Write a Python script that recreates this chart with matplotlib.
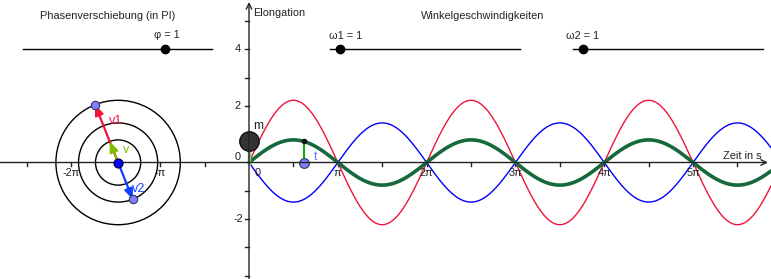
import numpy as np
import matplotlib
matplotlib.use("Agg")
import matplotlib.pyplot as plt
from matplotlib.patches import Circle, FancyArrowPatch

# ---- data ----
A1 = 2.2          # amplitude of wave 1 (red)
A2 = 1.4          # amplitude of wave 2 (blue)
phi = 1           # phase shift in units of pi
omega1 = 1        # angular velocity 1
omega2 = 1        # angular velocity 2
t_now = 1.95      # current time point t
center_x = -4.63  # centre of phasor diagram
x_tick_labels = ["-2π", "-π", "0", "π", "2π", "3π", "4π", "5π"]
x_tick_mult = [-2, -1, 0, 1, 2, 3, 4, 5]
y_tick_labels = ["4", "2", "0", "-2"]
y_tick_vals = [4, 2, 0, -2]
slider_labels = ["φ = 1", "ω1 = 1", "ω2 = 1"]

W, H = 771, 279
S = 28.27           # pixels per unit
OX, OY = 249, 162.5  # origin in pixels

fig = plt.figure(figsize=(W / 100, H / 100), dpi=100)
ax = fig.add_axes([0, 0, 1, 1])
ax.set_xlim(-OX / S, (W - OX) / S)
ax.set_ylim(-(H - OY) / S, OY / S)
ax.set_aspect("auto")
ax.axis("off")

FONT = "Liberation Sans"
FS = 7.9
def P(px, py):
    return (px / W, 1 - py / H)

axc = "#222222"
# axes
xmin, xmax = ax.get_xlim()
ymin, ymax = ax.get_ylim()
ax.annotate("", xy=(xmax - 3 / S, 0), xytext=(xmin, 0),
            arrowprops=dict(arrowstyle="->", color=axc, lw=1, mutation_scale=10, shrinkA=0, shrinkB=0))
ax.annotate("", xy=(0, ymax - 2 / S), xytext=(0, ymin),
            arrowprops=dict(arrowstyle="->", color=axc, lw=1, mutation_scale=10, shrinkA=0, shrinkB=0))

# x ticks at multiples of pi/2
for k in range(-5, 12):
    xv = k * np.pi / 2
    if k == 0:
        continue
    ax.plot([xv, xv], [0, -3 / S], color=axc, lw=1)
for m, lab in zip(x_tick_mult, x_tick_labels):
    if m == 0:
        ax.text(0.3, -10.5 / S, lab, ha="center", va="center", fontsize=FS, family=FONT, color="#222")
    else:
        ax.text(m * np.pi, -10.5 / S, lab, ha="center", va="center", fontsize=FS, family=FONT, color="#222")
# y ticks
for yv in range(-4, 6):
    if yv == 0:
        continue
    ax.plot([-4 / S, 0], [yv, yv], color=axc, lw=1)
for yv, lab in zip(y_tick_vals, y_tick_labels):
    if yv == 0:
        ax.text(-11 / S, 5.5 / S, lab, ha="center", va="center", fontsize=FS, family=FONT, color="#222")
    else:
        ax.text(-11 / S, yv, lab, ha="center", va="center", fontsize=FS, family=FONT, color="#222")

ax.text(4 / S, OY / S - 13 / S, "Elongation", ha="left", va="center", fontsize=FS, family=FONT, color="#222")
ax.text((723 - OX) / S, 6.5 / S, "Zeit in s", ha="left", va="center", fontsize=FS, family=FONT, color="#222")

# curves
RED = "#f0143c"
BLUE = "#0000ff"
DGREEN = "#15693b"
x = np.linspace(0, xmax, 1500)
y1 = A1 * np.sin(omega1 * x)
y2 = A2 * np.sin(omega2 * x + phi * np.pi)
ax.plot(x, y1, color=RED, lw=1.0)
ax.plot(x, y2, color=BLUE, lw=1.0)
ax.plot(x, y1 + y2, color=DGREEN, lw=2.6, solid_capstyle="round")

yg = A1 * np.sin(omega1 * t_now) + A2 * np.sin(omega2 * t_now + phi * np.pi)
# segment at m
ax.plot([0, 0], [0, yg], color="#7fd07f", lw=2.5)
ax.plot([t_now, t_now], [0, yg], color="#00b000", lw=1.4)
ax.plot([t_now], [yg], "o", color="#111", ms=3)
ax.plot([t_now], [0], "o", mfc="#8080ff", mec="#333366", ms=7, mew=0.8)
ax.text(t_now + 11 / S, 5 / S, "t", ha="center", va="center", fontsize=FS + 0.8, family=FONT, color="#6f6fff")
ax.plot([0], [yg], "o", mfc="#333333", mec="#111111", ms=14, mew=1)
ax.text(9 / S, yg + 15.5 / S, "m", ha="center", va="center", fontsize=FS + 0.8, family=FONT, color="#222")

# phasor diagram
for r in [A1, A2, abs(A1 - A2)]:
    ax.add_patch(Circle((center_x, 0), r, fill=False, ec="black", lw=1))
v1 = np.array([A1 * np.cos(t_now), A1 * np.sin(t_now)])
v2 = np.array([A2 * np.cos(t_now + phi * np.pi), A2 * np.sin(t_now + phi * np.pi)])
vs = v1 + v2
c = np.array([center_x, 0])
for vec, col in [(v1, RED), (v2, "#1040ff"), (vs, "#7fbf00")]:
    ax.add_patch(FancyArrowPatch(c, c + vec, arrowstyle="-|>,head_length=0.6,head_width=0.25", mutation_scale=10,
                                 color=col, lw=1.6, shrinkA=0, shrinkB=0, zorder=4))
ax.plot([c[0] + v1[0]], [v1[1]], "o", mfc="#8080ff", mec="#333366", ms=6, mew=0.8, zorder=5)
ax.plot([c[0] + v2[0]], [v2[1]], "o", mfc="#8080ff", mec="#333366", ms=6, mew=0.8, zorder=5)
ax.plot([c[0]], [0], "o", mfc="#0000ff", mec="#000033", ms=6.5, mew=0.8, zorder=6)
ax.text(c[0] - 2 / S, 42 / S, "v1", ha="center", va="center", fontsize=FS + 1.2, family=FONT, color=RED)
ax.text(c[0] + 8 / S, 12.5 / S, "v", ha="center", va="center", fontsize=FS + 1.2, family=FONT, color="#7fbf00")
ax.text(c[0] + 21 / S, -26 / S, "v2", ha="center", va="center", fontsize=FS + 1.2, family=FONT, color="#1040ff")

# sliders and headings
fig.text(*P(108, 16), "Phasenverschiebung (in PI)", ha="center", va="center", fontsize=FS, family=FONT, color="#222")
fig.text(*P(483, 16), "Winkelgeschwindigkeiten", ha="center", va="center", fontsize=FS, family=FONT, color="#222")
sliders = [((23, 212), 165, (154, 35)), ((330, 520), 340, (329, 36)), ((573, 763), 583, (566, 36))]
for (x0, x1), dot, (lx, ly), lab in zip([s[0] for s in sliders], [s[1] for s in sliders],
                                         [s[2] for s in sliders], slider_labels):
    a0 = P(x0, 49); a1 = P(x1, 49); d = P(dot, 49)
    fig.add_artist(plt.Line2D([a0[0], a1[0]], [a0[1], a1[1]], color="black", lw=1))
    fig.add_artist(plt.Line2D([d[0]], [d[1]], marker="o", color="black", ms=6))
    fig.text(*P(lx, ly), lab, ha="left", va="center", fontsize=FS, family=FONT, color="#222")

fig.savefig("out.png", dpi=100, facecolor="white")
